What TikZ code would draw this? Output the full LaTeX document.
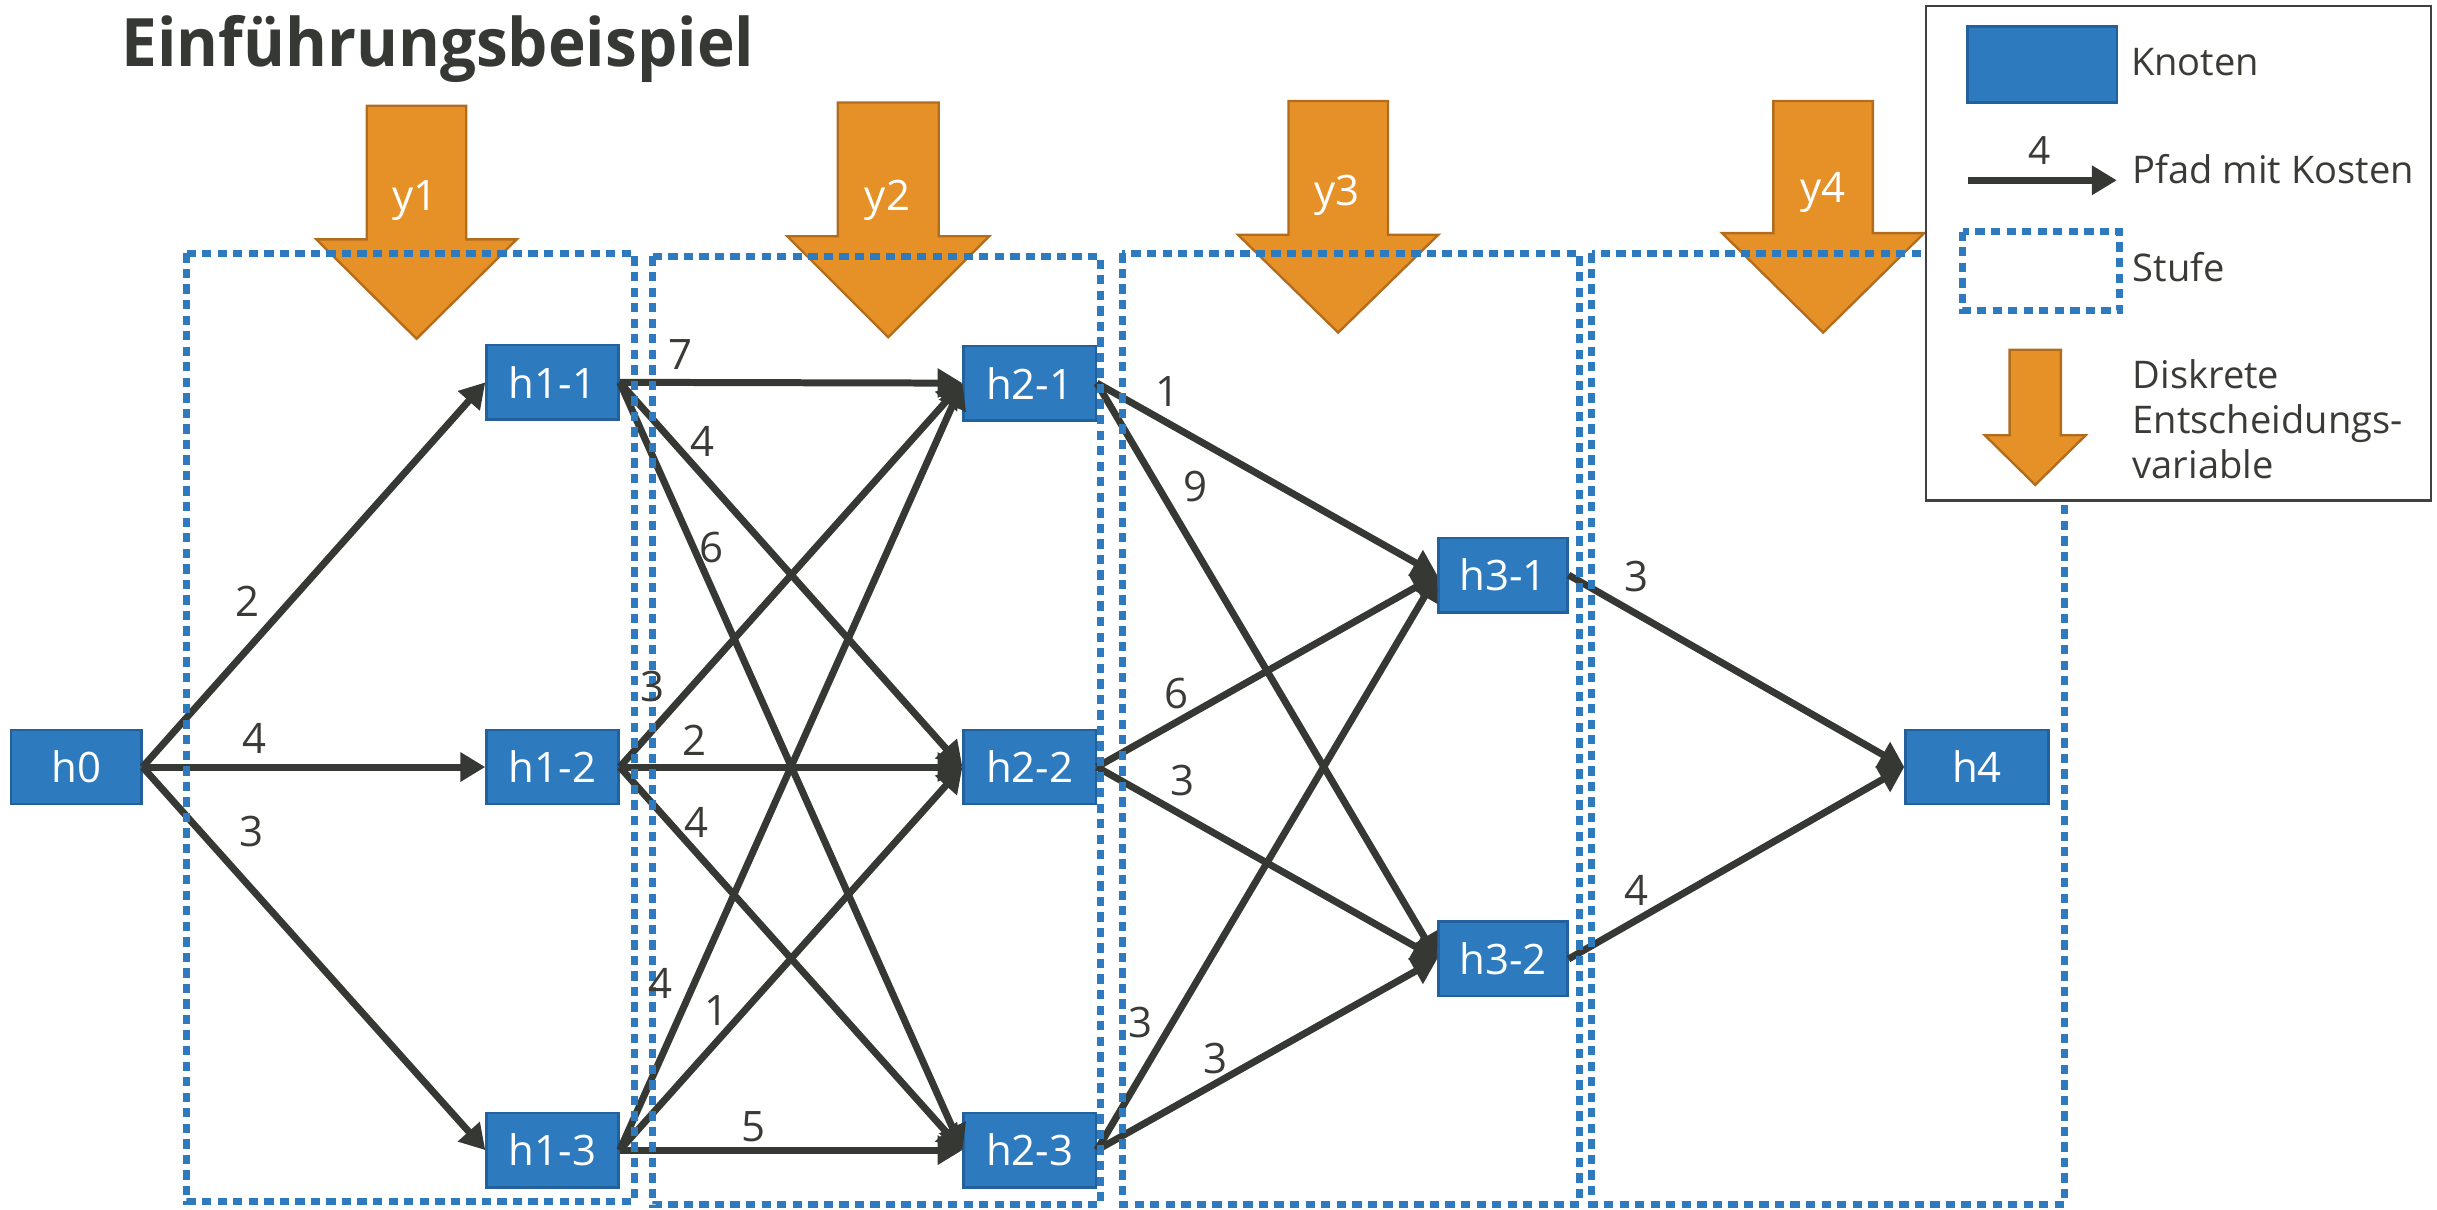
\documentclass[tikz,border=0pt]{standalone}
\usepackage{fontspec}
\setmainfont{Open Sans}
\usepackage{graphicx}
\usetikzlibrary{arrows.meta}
\definecolor{knotenblau}{HTML}{2E7ABE}
\definecolor{knotenrand}{HTML}{22609E}
\definecolor{pfadgrau}{HTML}{363833}
\definecolor{textgrau}{HTML}{3A3A36}
\definecolor{entschorange}{HTML}{E69127}
\definecolor{entschrand}{HTML}{B26C1E}
\definecolor{rahmengrau}{HTML}{404040}

% decision arrow: centre x, shaft half width, head half width, top, head base, tip
\newcommand\DecArrow[6]{%
  \draw[entsch] (#1-#2,#4) -- (#1+#2,#4) -- (#1+#2,#5) -- (#1+#3,#5) -- (#1,#6)
    -- (#1-#3,#5) -- (#1-#2,#5) -- cycle;}

\begin{document}
\begin{tikzpicture}[x=1pt,y=-1pt,
  knoten/.style={draw=knotenrand, fill=knotenblau, line width=1.5pt,
    minimum width=85pt, minimum height=48pt, inner sep=0pt, text=white,
    font=\fontsize{27}{32}\selectfont},
  pfad/.style={draw=pfadgrau, line width=4.5pt,
    -{Triangle[length=16pt,width=18pt]}},
  kosten/.style={text=textgrau, font=\fontsize{27}{32}\selectfont, inner sep=0pt},
  stufe/.style={draw=knotenblau, line width=4.5pt, dash pattern=on 6pt off 4pt},
  entsch/.style={fill=entschorange, draw=entschrand, line width=1.5pt, line join=miter},
  vartext/.style={text=white, font=\fontsize{27}{32}\selectfont, inner sep=0pt},
  legtext/.style={text=textgrau, font=\fontsize{24.5}{29}\selectfont, anchor=west,
    inner sep=0pt, align=left}
]
\useasboundingbox (0,0) rectangle (1568,778);

% title
\node[anchor=base west, inner sep=0pt, text=pfadgrau,
  font=\bfseries\fontsize{43}{50}\selectfont] (titel) at (78,43)
  {\scalebox{0.955}[1]{Einführungsbeispiel}};

% decision variables per stage
\DecArrow{268}{32}{64.5}{68}{154}{218}
\DecArrow{571.5}{32.5}{65}{66}{152}{217}
\DecArrow{861}{32}{64.5}{65}{151}{214}
\DecArrow{1173}{32}{65}{65}{150}{214}
\node[vartext] (y1) at (267,129) {y1};
\node[vartext] (y2) at (571,129) {y2};
\node[vartext] (y3) at (860,126) {y3};
\node[vartext] (y4) at (1173,124) {y4};

% nodes
\node[knoten, minimum width=84pt] (h0) at (49,493.5) {h0};
\node[knoten] (h11) at (355.5,246) {h1-1};
\node[knoten] (h12) at (355.5,493.5) {h1-2};
\node[knoten] (h13) at (355.5,740) {h1-3};
\node[knoten] (h21) at (662.5,246.5) {h2-1};
\node[knoten] (h22) at (662.5,493.5) {h2-2};
\node[knoten] (h23) at (662.5,740) {h2-3};
\node[knoten, minimum width=83pt] (h31) at (967,370) {h3-1};
\node[knoten, minimum width=83pt] (h32) at (967,617) {h3-2};
\node[knoten, minimum width=92pt] (h4) at (1272,493.5) {h4};

% paths with costs
\foreach \a/\b in {h0/h11,h0/h12,h0/h13,
                   h11/h21,h11/h22,h11/h23,
                   h12/h21,h12/h22,h12/h23,
                   h13/h21,h13/h22,h13/h23,
                   h21/h31,h21/h32,h22/h31,h22/h32,h23/h31,h23/h32,
                   h31/h4,h32/h4}
  \draw[pfad] (\a.east) -- (\b.west);

% stages
\draw[stufe] (120,163) rectangle (408,773);
\draw[stufe] (420,165) rectangle (708,775);
\draw[stufe] (722,163) rectangle (1016,775);
\draw[stufe] (1024,163) rectangle (1328,775);

% cost labels
\node[kosten] (k1)  at (159,387) {2};
\node[kosten] (k2)  at (164,475) {4};
\node[kosten] (k3)  at (162,535) {3};
\node[kosten] (k4)  at (438,228) {7};
\node[kosten] (k5)  at (452,284) {4};
\node[kosten] (k6)  at (458,352) {6};
\node[kosten] (k7)  at (420,442) {3};
\node[kosten] (k8)  at (447,476) {2};
\node[kosten] (k9)  at (448,529) {4};
\node[kosten] (k10) at (425,633) {4};
\node[kosten] (k11) at (461,650) {1};
\node[kosten] (k12) at (485,725) {5};
\node[kosten] (k13) at (751,252) {1};
\node[kosten] (k14) at (769,313) {9};
\node[kosten] (k15) at (757,446) {6};
\node[kosten] (k16) at (761,502) {3};
\node[kosten] (k17) at (734,658) {3};
\node[kosten] (k18) at (782,681) {3};
\node[kosten] (k19) at (1053,371) {3};
\node[kosten] (k20) at (1053,573) {4};

% legend
\draw[draw=rahmengrau, fill=white, line width=1.5pt] (1239,4) rectangle (1564,322);
\node[knoten, minimum width=96pt, minimum height=49pt] (lknoten) at (1314,41.5) {};
\node[legtext] (tknoten) at (1371,40) {Knoten};
\coordinate (lpa) at (1266,116);
\coordinate (lpb) at (1362,116);
\draw[pfad] (lpa) -- (lpb);
\node[kosten, font=\fontsize{25}{29}\selectfont] (lvier) at (1312,97) {4};
\node[legtext] (tpfad) at (1372,109) {Pfad mit Kosten};
\draw[stufe] (1263,149) rectangle (1364,200);
\node[legtext] (tstufe) at (1372,172) {Stufe};
\DecArrow{1309.5}{16.5}{32.5}{225}{280}{312}
\node[legtext, anchor=base west] (tvar1) at (1372,250) {Diskrete};
\node[legtext, anchor=base west] (tvar2) at (1372,279) {Entscheidungs-};
\node[legtext, anchor=base west] (tvar3) at (1372,308) {variable};
\end{tikzpicture}
\end{document}
